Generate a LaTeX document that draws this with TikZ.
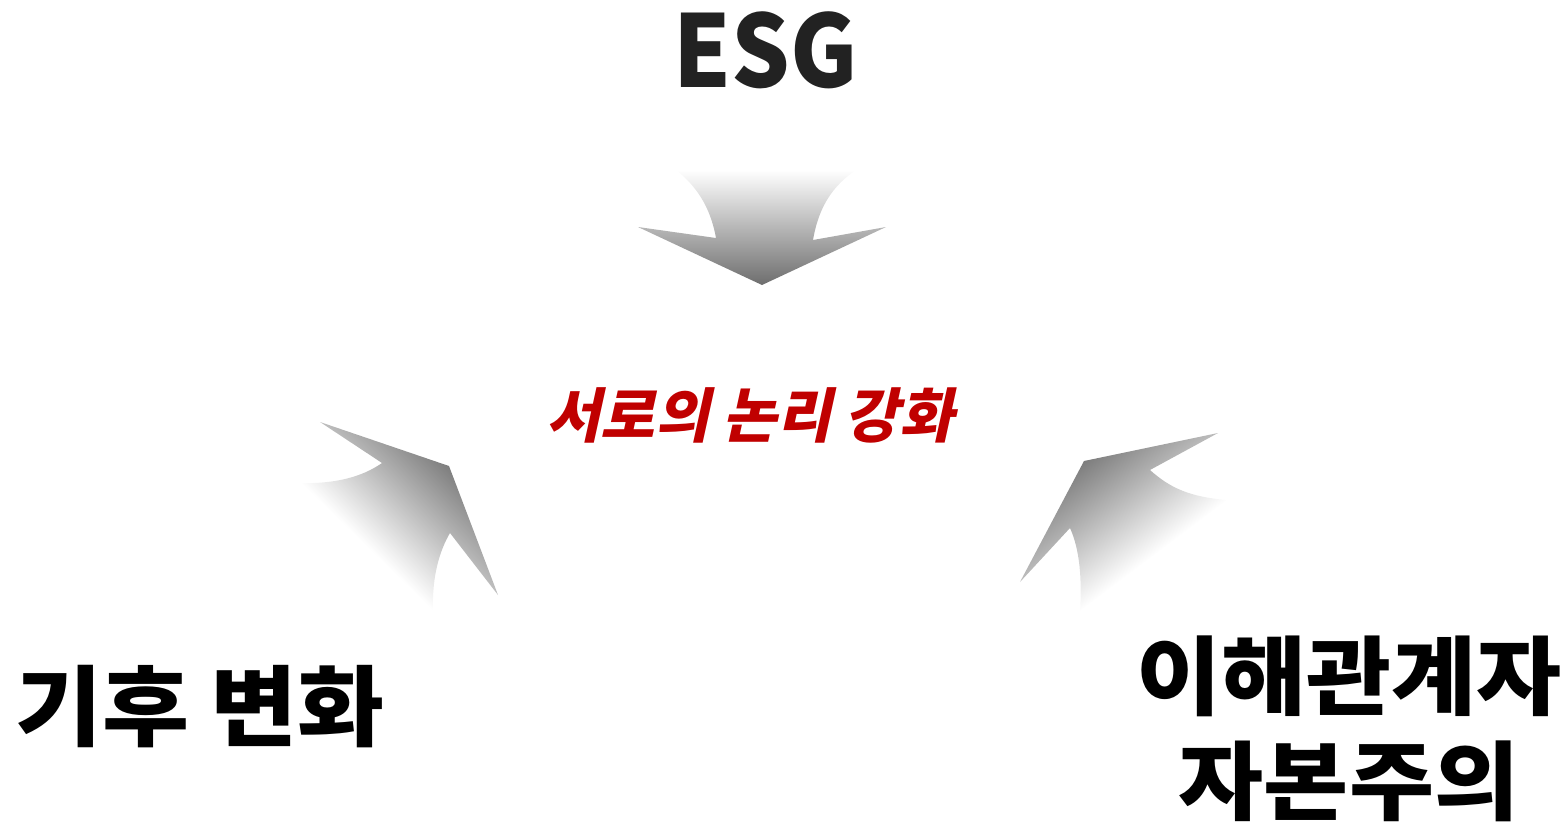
\documentclass[tikz,border=0pt]{standalone}
\usepackage{fontspec}
\newfontfamily\kr{Noto Sans CJK KR}
\newfontfamily\krit{Noto Sans CJK KR}[FakeSlant=0.22]
\definecolor{redtxt}{HTML}{C00000}
\definecolor{txtdark}{HTML}{222222}
\newcommand{\wide}[1]{\scalebox{1.075}[1]{#1}}
\tikzset{
  bigtxt/.style={font=\kr\bfseries\fontsize{88}{105}\selectfont, text=black, inner sep=0pt, align=center},
  arrowshade/.style={top color=black!52, bottom color=white}
}
\begin{document}
\begin{tikzpicture}[x=1pt,y=-1pt]
\useasboundingbox (0,0) rectangle (1567,822);
% top arrow
\shade[top color=white, bottom color=black!57]
  (676,170) .. controls (695,185) and (710,205) .. (716,238)
  -- (638,227) -- (762,285) -- (886,227) -- (813,240)
  .. controls (819,205) and (834,185) .. (856,170) -- cycle;
% left arrow
\begin{scope}
  \clip (320,422) -- (449,466) -- (498,595) -- (450,533)
    .. controls (440,550) and (432,575) .. (433,610)
    -- (300,483) .. controls (335,484) and (362,477) .. (382,463) -- cycle;
  \begin{scope}[transform canvas={shift={(366,546)}, rotate=-44}]
    \shade[arrowshade] (-220,0) rectangle (220,-118);
  \end{scope}
\end{scope}
% right arrow
\begin{scope}
  \clip (1218,433) -- (1084,461) -- (1020,582) -- (1070,528)
    .. controls (1080,550) and (1082,580) .. (1080,612)
    -- (1227,500) .. controls (1190,497) and (1170,488) .. (1150,470) -- cycle;
  \begin{scope}[transform canvas={shift={(1153,556)}, rotate=37}]
    \shade[arrowshade] (-220,0) rectangle (220,-120);
  \end{scope}
\end{scope}
% texts
\node[font=\kr\bfseries\fontsize{100}{110}\selectfont, text=txtdark, inner sep=0pt] (esg) at (766,50) {\scalebox{0.92}[1]{ESG}};
\node[font=\krit\bfseries\fontsize{59}{64}\selectfont, text=redtxt, inner sep=0pt] (mid) at (750,415) {서로의 논리 강화};
\node[bigtxt] (climate) at (200,707) {\wide{기후 변화}};
\node[bigtxt, font=\kr\bfseries\fontsize{86}{105}\selectfont] (stake) at (1349,729) {\wide{이해관계자}\\\wide{자본주의}};
\end{tikzpicture}
\end{document}
